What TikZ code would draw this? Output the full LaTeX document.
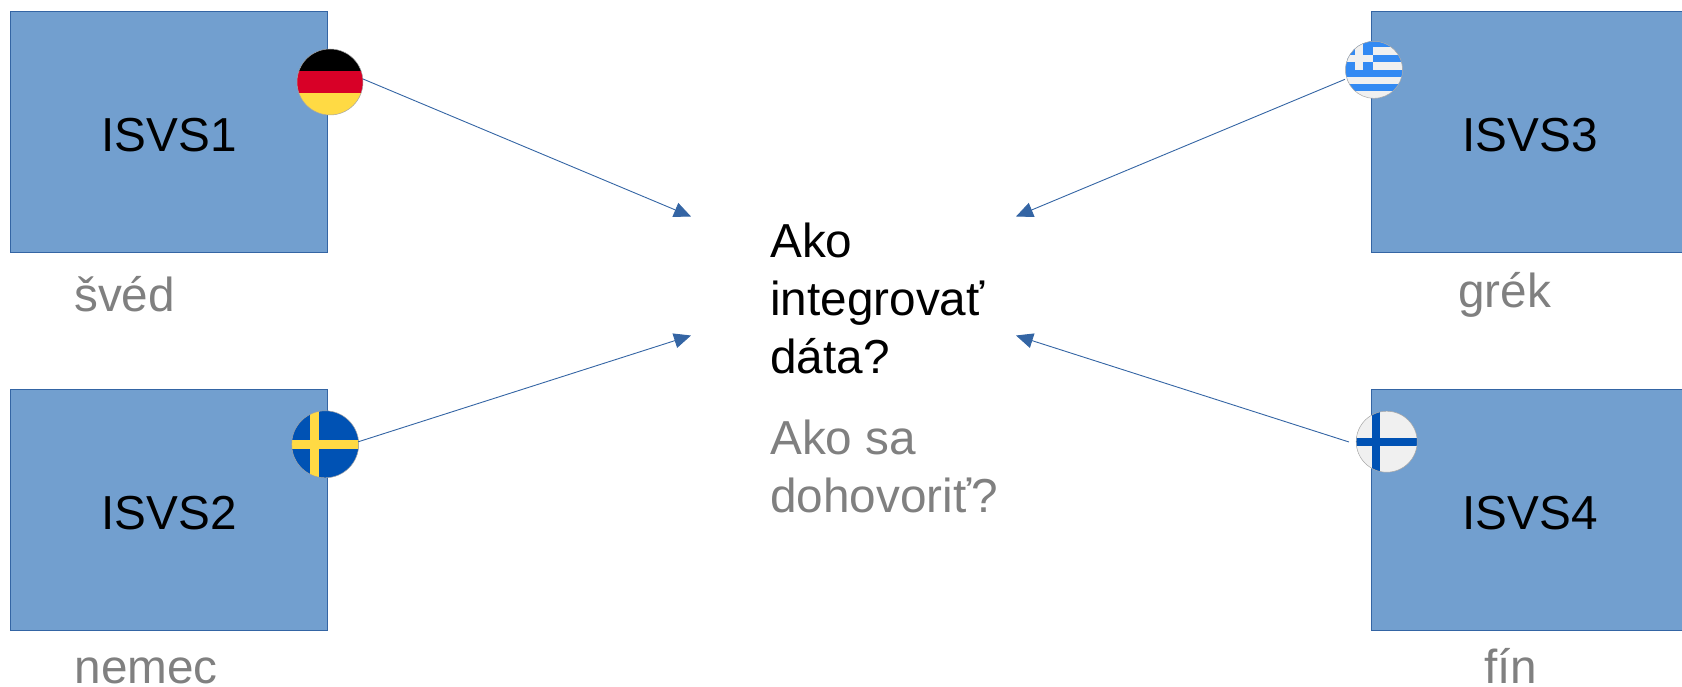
\documentclass[tikz,border=0pt]{standalone}
\usepackage{fontspec}
\setmainfont{Liberation Sans}
\usetikzlibrary{arrows.meta}
\definecolor{boxfill}{HTML}{729FCF}
\definecolor{boxline}{HTML}{3465A4}
\definecolor{lblgray}{HTML}{808080}
\definecolor{flagblue}{HTML}{0052B4}
\definecolor{flagyellow}{HTML}{FFDA44}
\definecolor{flagred}{HTML}{D80027}
\definecolor{flagwhite}{HTML}{F0F0F0}
\definecolor{greekblue}{HTML}{338AF3}
\tikzset{
  sysbox/.style={draw=boxline,line width=0.9pt,fill=boxfill,minimum width=317pt,minimum height=241pt,inner sep=0pt,anchor=north west,text=black,text height=40pt,text depth=0pt,font=\fontsize{47.7}{57}\selectfont},
  lbl/.style={anchor=base west,inner sep=0pt,text=lblgray,font=\fontsize{47.7}{57}\selectfont},
  qtext/.style={anchor=base west,inner sep=0pt,font=\fontsize{47.7}{57}\selectfont},
  link/.style={draw=boxline,line width=0.9pt,-{Triangle[length=17pt,width=15pt,fill=boxline]}},
  flagring/.style={circle,draw=gray!70,line width=0.5pt,inner sep=0pt}
}
\begin{document}
\begin{tikzpicture}[x=1pt,y=-1pt]
\useasboundingbox (0,0) rectangle (1682,687);
\clip (0,0) rectangle (1682,687);
\node[sysbox] (b1) at (10,11) {ISVS1};
\node[sysbox] (b2) at (10,389) {ISVS2};
\node[sysbox] (b3) at (1371,11) {ISVS3};
\node[sysbox] (b4) at (1371,389) {ISVS4};
\node[lbl] (l1) at (74,312) {švéd};
\node[lbl] (l2) at (74.5,683) {nemec};
\node[lbl] (l3) at (1458,308) {grék};
\node[lbl] (l4) at (1484,683) {fín};
\node[qtext] (q1) at (770,258) {Ako};
\node[qtext] (q2) at (770,316) {integrovať};
\node[qtext] (q3) at (770,373) {dáta?};
\node[qtext,text=lblgray] (q4) at (770,454) {Ako sa};
\node[qtext,text=lblgray] (q5) at (770,512) {dohovoriť?};
% Germany
\begin{scope}
\clip (330,82) circle [radius=33];
\fill[black] (290,40) rectangle (370,70.7);
\fill[flagred] (290,70.7) rectangle (370,93.3);
\fill[flagyellow] (290,93.3) rectangle (370,120);
\end{scope}
\node[flagring,minimum size=66pt] (de) at (330,82) {};
% Sweden
\begin{scope}
\clip (325.2,444.3) circle [radius=33.5];
\fill[flagblue] (290,410) rectangle (360,480);
\fill[flagyellow] (309.7,410) rectangle (318.7,480);
\fill[flagyellow] (290,440.3) rectangle (360,449.3);
\end{scope}
\node[flagring,minimum size=67pt] (se) at (325.2,444.3) {};
% Greece
\begin{scope}
\clip (1374,69.8) circle [radius=28.5];
\fill[flagwhite] (1340,38) rectangle (1405,100);
\fill[greekblue] (1340,38) rectangle (1405,47.3);
\fill[greekblue] (1340,55) rectangle (1405,62.3);
\fill[greekblue] (1340,70) rectangle (1405,76.7);
\fill[greekblue] (1340,84) rectangle (1405,91);
\fill[greekblue] (1340,38) rectangle (1373.3,70);
\fill[flagwhite] (1355.3,38) rectangle (1362.7,70);
\fill[flagwhite] (1340,55) rectangle (1373.3,62.3);
\end{scope}
\node[flagring,minimum size=57pt] (gr) at (1374,69.8) {};
% Finland
\begin{scope}
\clip (1386.7,441.7) circle [radius=30.5];
\fill[flagwhite] (1350,405) rectangle (1425,480);
\fill[flagblue] (1372.3,405) rectangle (1380,480);
\fill[flagblue] (1350,438.3) rectangle (1425,446);
\end{scope}
\node[flagring,minimum size=61pt] (fi) at (1386.7,441.7) {};
% connectors
\coordinate (t1) at (691,216.5);
\coordinate (t2) at (691,335.5);
\coordinate (t3) at (1016,216.5);
\coordinate (t4) at (1016,335.5);
\coordinate (s4) at (1349,442);
\draw[link] (de) ++(33,-3) -- (t1);
\draw[link] (se) ++(33,-2.5) -- (t2);
\draw[link] (gr) ++(-29,9.5) -- (t3);
\draw[link] (s4) -- (t4);
\end{tikzpicture}
\end{document}
